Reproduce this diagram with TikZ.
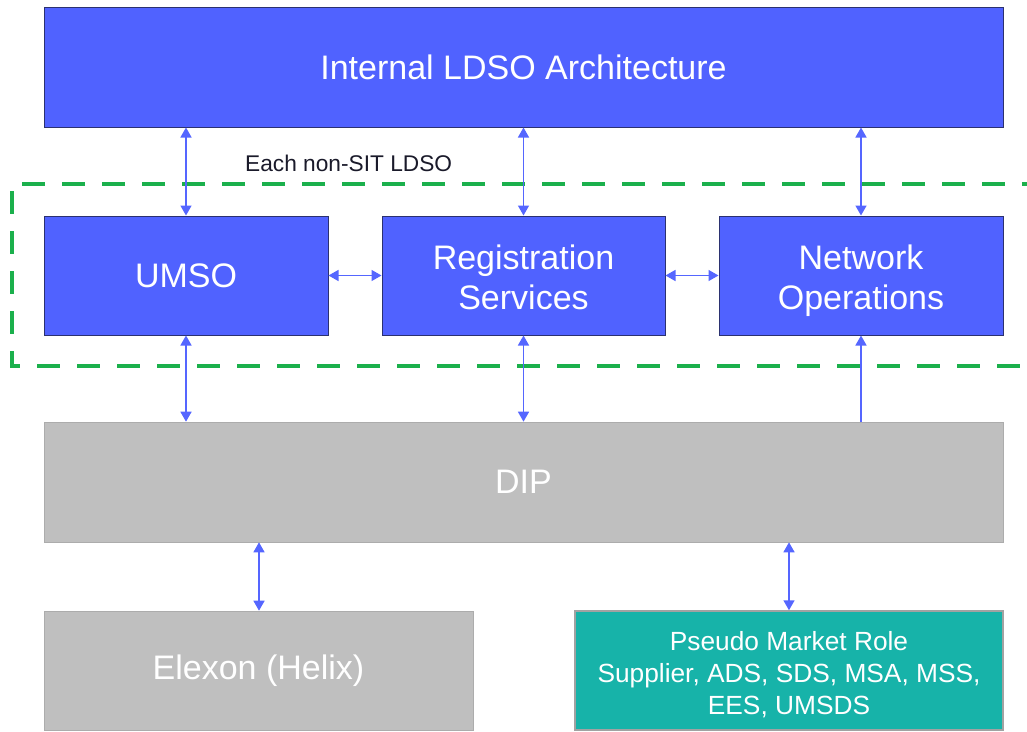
\documentclass[tikz,border=0pt]{standalone}
\usepackage{fontspec}
\setmainfont{Liberation Sans}
\usetikzlibrary{arrows.meta}
\definecolor{boxblue}{HTML}{5062FF}
\definecolor{boxedge}{HTML}{2B3170}
\definecolor{arrblue}{HTML}{5566FF}
\definecolor{boxgray}{HTML}{BFBFBF}
\definecolor{teal}{HTML}{17B3A9}
\definecolor{dashgreen}{HTML}{1BB04C}
\definecolor{labeltext}{HTML}{1A1A2A}
\tikzset{
  bluebox/.style={draw=boxedge, line width=1pt, fill=boxblue, text=white, align=center, inner sep=0pt,
    font=\fontsize{34}{40}\selectfont},
  graybox/.style={draw=boxgray!90!black, line width=0.6pt, fill=boxgray, text=white, align=center, inner sep=0pt,
    font=\fontsize{34}{40}\selectfont},
  tealbox/.style={draw=boxgray!85!black, line width=1.5pt, fill=teal, text=white, align=center, inner sep=0pt,
    font=\fontsize{26.3}{32}\selectfont},
  biarr/.style={arrblue, line width=1.5pt, {Triangle[length=10pt,width=11pt]}-{Triangle[length=10pt,width=11pt]}},
  uparr/.style={arrblue, line width=1.5pt, -{Triangle[length=10pt,width=11pt]}},
  grpline/.style={dashgreen, line width=4.5pt, dash pattern=on 23pt off 17pt},
}
\begin{document}
\begin{tikzpicture}[x=1pt,y=-1pt]
\useasboundingbox (0,0) rectangle (1027,731);
\node[bluebox, minimum width=959pt, minimum height=120pt] (top) at (523.5,67) {Internal LDSO Architecture};
\draw[grpline] (1045,184) -- (12,184) -- (12,366) -- (1045,366);
\node[anchor=west, text=labeltext, inner sep=0pt, font=\fontsize{22.7}{26}\selectfont] (lbl) at (245,163) {Each non-SIT LDSO};
\node[bluebox, minimum width=284pt, minimum height=119pt] (umso) at (186,275.5) {UMSO};
\node[bluebox, minimum width=283pt, minimum height=119pt] (reg) at (523.5,275.5) {\rule{0pt}{28.8pt}Registration\\Services};
\node[bluebox, minimum width=284pt, minimum height=119pt] (net) at (861,275.5) {\rule{0pt}{36pt}Network\\Operations};
\node[graybox, minimum width=959pt, minimum height=120pt] (dip) at (523.5,482) {DIP};
\node[graybox, minimum width=429pt, minimum height=119pt] (elx) at (258.5,670.5) {Elexon (Helix)};
\node[tealbox, minimum width=428pt, minimum height=119pt] (pmr) at (789,670.5) {\rule{0pt}{27pt}Pseudo Market Role\\Supplier, ADS, SDS, MSA, MSS,\\EES, UMSDS};
\draw[biarr] (umso.north) -- (umso.north |- top.south);
\draw[biarr] (reg.north) -- (reg.north |- top.south);
\draw[biarr] (net.north) -- (net.north |- top.south);
\draw[biarr] (umso.east) -- (reg.west);
\draw[biarr] (reg.east) -- (net.west);
\draw[biarr] (umso.south) -- (umso.south |- dip.north);
\draw[biarr] (reg.south) -- (reg.south |- dip.north);
\draw[uparr] (net.south |- dip.north) -- (net.south);
\coordinate (elxtop) at (259,611);
\coordinate (pmrtop) at (789,611);
\draw[biarr] (elxtop |- dip.south) -- (elxtop |- elx.north);
\draw[biarr] (pmrtop |- dip.south) -- (pmrtop |- pmr.north);
\end{tikzpicture}
\end{document}
